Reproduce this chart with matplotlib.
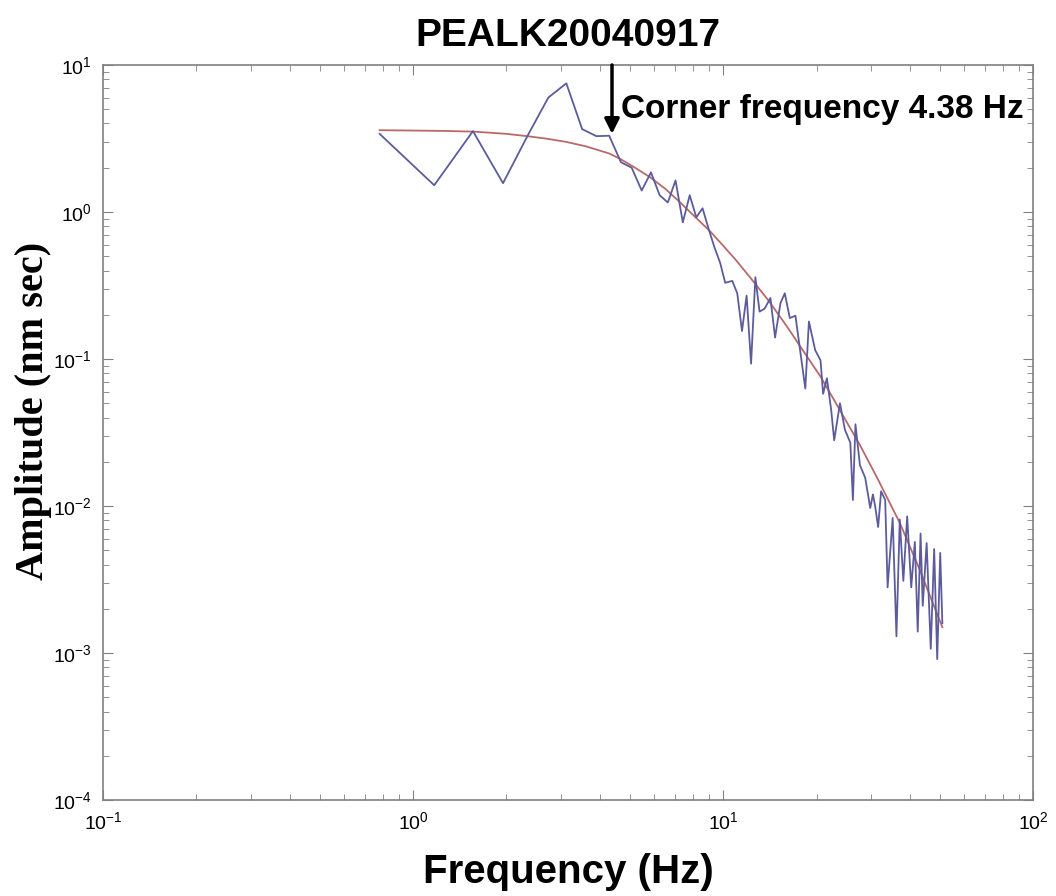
# Spectrum of event PEALK20040917 with Brune-type fit, log-log axes.

import matplotlib
matplotlib.use("Agg")
import matplotlib.pyplot as plt

# --- Data ---
freq_obs = [0.78, 1.17, 1.56, 1.95, 2.34, 2.73, 3.12, 3.51, 3.90, 4.29,
            4.68, 5.07, 5.46, 5.85, 6.24, 6.63, 7.02, 7.41, 7.80, 8.19,
            8.58, 8.97, 9.36, 9.78, 10.15, 10.7, 11.1, 11.5, 11.9, 12.3,
            12.7, 13.1, 13.6, 14.2, 14.7, 15.3, 15.8, 16.4, 17.1, 17.7,
            18.4, 18.9, 19.8, 20.6, 21.0, 21.6, 22.3, 22.8, 23.8, 24.7,
            25.7, 26.2, 26.7, 27.6, 28.7, 29.8, 30.4, 30.9, 31.6, 32.3,
            33.3, 33.9, 35.2, 36.2, 37.1, 38.1, 39.2, 40.4, 41.5, 42.4,
            43.3, 44.0, 45.3, 46.7, 47.9, 49.0, 50.1, 50.9]
amp_obs = [3.4, 1.52, 3.55, 1.57, 3.3, 6.0, 7.5, 3.66, 3.28, 3.3,
           2.18, 2.0, 1.40, 1.86, 1.30, 1.16, 1.64, 0.85, 1.30, 0.92,
           1.06, 0.77, 0.58, 0.45, 0.33, 0.34, 0.28, 0.155, 0.27, 0.093,
           0.36, 0.21, 0.22, 0.26, 0.14, 0.24, 0.28, 0.19, 0.197, 0.115,
           0.063, 0.18, 0.115, 0.098, 0.058, 0.074, 0.045, 0.028, 0.050, 0.033,
           0.027, 0.011, 0.036, 0.019, 0.0156, 0.0097, 0.012, 0.010, 0.0072, 0.0126,
           0.011, 0.0028, 0.0083, 0.0013, 0.0081, 0.0031, 0.0085, 0.0028, 0.0057, 0.0014,
           0.0065, 0.0021, 0.0056, 0.00107, 0.0051, 0.00091, 0.0048, 0.0016]

freq_fit = [0.78, 1.0, 1.25, 1.57, 2.0, 2.33, 2.7, 3.11, 3.6, 4.29,
            4.65, 5.2, 5.82, 6.5, 7.24, 8.1, 9.07, 10.0, 11.0, 12.2,
            14.0, 16.1, 18.2, 20.6, 23.5, 27.6, 31.4, 37.1, 43.0, 50.9]
amp_fit = [3.6, 3.58, 3.56, 3.52, 3.4, 3.28, 3.15, 3.0, 2.8, 2.5,
           2.3, 2.0, 1.72, 1.44, 1.17, 0.93, 0.74, 0.59, 0.47, 0.36,
           0.25, 0.165, 0.112, 0.076, 0.047, 0.026, 0.0155, 0.0077, 0.0037, 0.0015]

corner_freq = 4.38
title = "PEALK20040917"

plt.rcParams["font.family"] = ["Liberation Sans", "DejaVu Sans"]

fig = plt.figure(figsize=(10.56, 8.96), dpi=100)
ax = fig.add_axes([0.0975, 0.107, 0.881, 0.8205])

ax.loglog(freq_fit, amp_fit, color="#b86a6a", lw=1.3)
ax.loglog(freq_obs, amp_obs, color="#5c5c9c", lw=1.3)

ax.set_xlim(0.1, 100)
ax.set_ylim(1e-4, 10)

for s in ax.spines.values():
    s.set_color("#808080")
    s.set_linewidth(1.2)
ax.tick_params(which="both", direction="in", top=True, right=True, color="#808080")
ax.tick_params(which="major", length=7, labelsize=14, pad=8)
ax.tick_params(which="minor", length=4)

# corner frequency arrow
ax.annotate("", xy=(corner_freq, 3.4), xytext=(corner_freq, 10),
            arrowprops=dict(arrowstyle="-|>", color="black", lw=2.5,
                            mutation_scale=22, shrinkA=0, shrinkB=0))
ax.text(4.7, 5.0, "Corner frequency 4.38 Hz", fontsize=24, fontweight="bold",
        va="center", ha="left")

ax.set_title(title, fontsize=28, fontweight="bold", pad=14)
ax.set_xlabel("Frequency (Hz)", fontsize=29, fontweight="bold", labelpad=14)
ax.set_ylabel("Amplitude (nm sec)", fontsize=29, fontweight="bold",
              family=["Liberation Serif", "DejaVu Serif"])
ax.yaxis.set_label_coords(-0.055, 0.53)

plt.savefig("out.png", dpi=100)
